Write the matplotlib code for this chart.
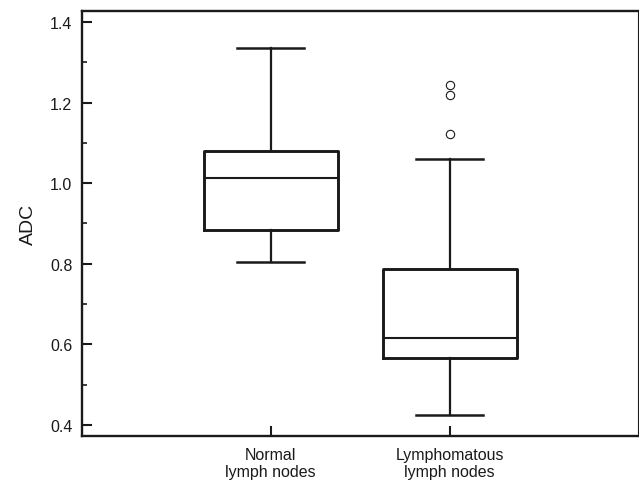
import matplotlib.pyplot as plt
from matplotlib.ticker import MultipleLocator

plt.rcParams['font.family'] = ['Liberation Sans', 'DejaVu Sans']

# group labels
groups = ["Normal\nlymph nodes", "Lymphomatous\nlymph nodes"]

# box statistics
whisker_low = [0.804, 0.424]
q1 = [0.885, 0.566]
median = [1.014, 0.615]
q3 = [1.080, 0.787]
whisker_high = [1.335, 1.060]
outliers = [[], [1.244, 1.219, 1.122]]

stats = []
for i in range(len(groups)):
    stats.append({
        "label": groups[i],
        "whislo": whisker_low[i],
        "q1": q1[i],
        "med": median[i],
        "q3": q3[i],
        "whishi": whisker_high[i],
        "fliers": outliers[i],
    })

dark = "#1a1a1a"
fig = plt.figure(figsize=(6.39, 4.85), dpi=100)
ax = fig.add_axes([0.1283, 0.099, 0.870, 0.8763])

ax.bxp(stats, positions=[1, 2], widths=0.75, showfliers=True,
       boxprops=dict(color=dark, linewidth=2.1),
       medianprops=dict(color=dark, linewidth=1.5),
       whiskerprops=dict(color=dark, linewidth=1.6),
       capprops=dict(color=dark, linewidth=1.8),
       flierprops=dict(marker="o", markerfacecolor="white",
                       markeredgecolor=dark, markersize=6, markeredgewidth=0.8))

ax.set_xlim(-0.054, 3.052)
ax.set_ylim(0.373, 1.427)
ax.yaxis.set_major_locator(MultipleLocator(0.2))
ax.yaxis.set_minor_locator(MultipleLocator(0.1))
ax.set_yticklabels([f"{v:.1f}" for v in ax.get_yticks()])

ax.tick_params(axis="y", which="major", direction="in", length=7, width=1.5,
               labelsize=11.5, pad=7, colors=dark)
ax.tick_params(axis="y", which="minor", direction="in", length=3.6, width=1.2,
               colors=dark)
ax.tick_params(axis="x", which="major", direction="in", length=7, width=1.5,
               labelsize=11.5, pad=8, colors=dark)

ax.set_ylabel("ADC", fontsize=14, color=dark, labelpad=9)

for side in ["left", "top", "bottom"]:
    ax.spines[side].set_linewidth(1.7)
    ax.spines[side].set_color(dark)
ax.spines["right"].set_linewidth(0.8)
ax.spines["right"].set_color(dark)

fig.savefig("out.png", dpi=100)
